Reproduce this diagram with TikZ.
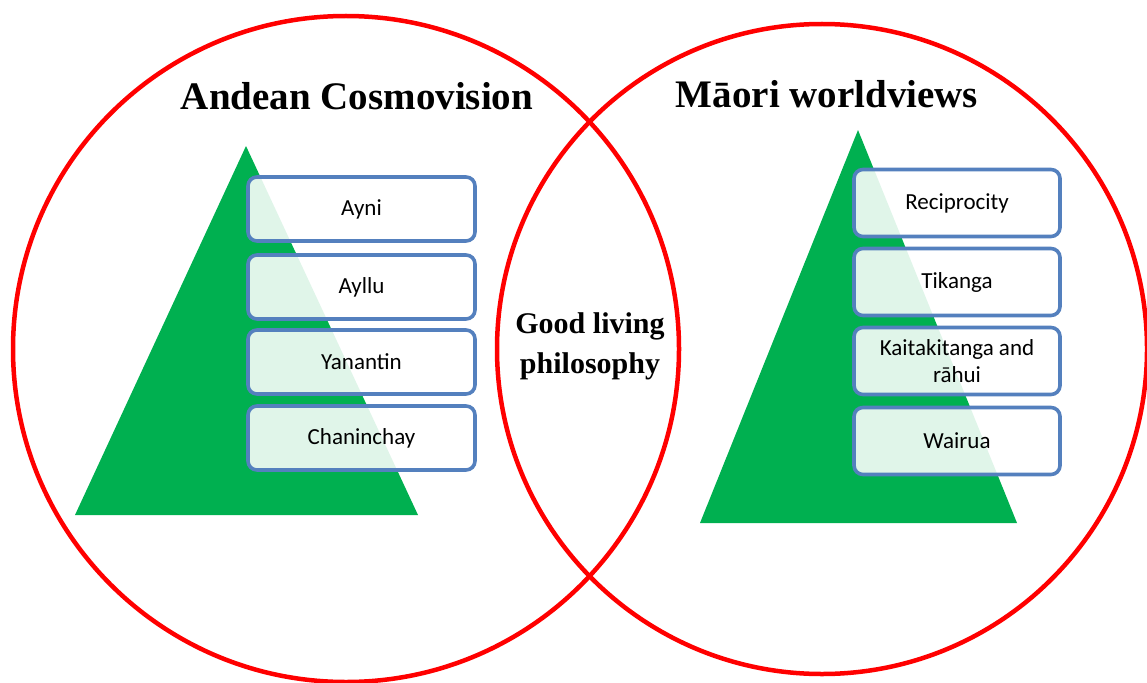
\documentclass[tikz,border=0pt]{standalone}
\usepackage{fontspec}
\setmainfont{Liberation Serif}
\newfontfamily\boxfont{Carlito}
\definecolor{vennred}{RGB}{255,0,0}
\definecolor{pyrgreen}{RGB}{0,176,80}
\definecolor{boxblue}{RGB}{84,128,190}
\begin{document}
\begin{tikzpicture}[x=1pt,y=-1pt,
		item/.style={draw=boxblue,line width=3.6pt,rounded corners=9pt,fill=white,fill opacity=0.88,text opacity=1,align=center,font=\boxfont\fontsize{23}{27}\selectfont},
		leftitem/.style={item,minimum width=227pt,minimum height=64pt},
		rightitem/.style={item,minimum width=206pt,minimum height=67pt},
		title/.style={font=\bfseries\fontsize{39}{42}\selectfont}]
		\useasboundingbox (0,0) rectangle (1147,682);

		% the two sets
		\draw[vennred,line width=4.5pt] (346,349) circle[radius=333pt];
		\draw[vennred,line width=4.5pt] (822,349) circle[radius=325pt];

		\node[title] (andean) at (357,96) {Andean Cosmovision};
		\node[title] (maori) at (827,94) {Māori worldviews};
		\node[align=center,font=\bfseries\fontsize{30}{40}\selectfont] (good) at (590,346) {Good living\\philosophy};

		% pyramids
		\fill[pyrgreen] (246,146) -- (418,515) -- (75,515) -- cycle;
		\fill[pyrgreen] (858,130) -- (1017,523) -- (700,523) -- cycle;

		\foreach \y/\name/\txt in {209/ayni/Ayni, 287/ayllu/Ayllu, 362/yanantin/Yanantin, 438/chaninchay/Chaninchay}
			{\node[leftitem] (\name) at (361.5,\y) {\txt};}
		\foreach \y/\name/\txt in {203/recip/Reciprocity, 282/tikanga/Tikanga, 361/kaitaki/{Kaitakitanga and\\rāhui}, 441/wairua/Wairua}
			{\node[rightitem] (\name) at (957,\y) {\txt};}
	\end{tikzpicture}
\end{document}
